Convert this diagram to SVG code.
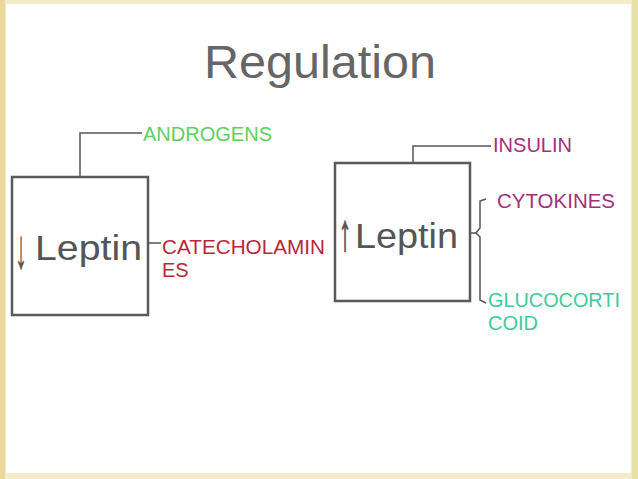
<svg xmlns="http://www.w3.org/2000/svg" width="638" height="479" viewBox="0 0 638 479">
<style>
.box{fill:none;stroke:#5a5a5a;stroke-width:2.5}
.con{fill:none;stroke:#555;stroke-width:1.5}
.lbl{font-family:"Liberation Sans",Arial,sans-serif;font-size:20px}
.lep{font-family:"Liberation Sans",Arial,sans-serif;font-size:35px;fill:#555}
.arr{font-family:"DejaVu Sans","Liberation Sans",sans-serif;fill:#555;stroke:#555}
</style>
<rect x="0" y="0" width="638" height="479" fill="#f4ebc9"/>
<rect x="0" y="0" width="5" height="479" fill="#ecd79a"/>
<rect x="632" y="0" width="6" height="479" fill="#e6dfa6"/>
<rect x="6" y="4" width="625" height="469" fill="#ffffff"/>
<text x="320" y="78" text-anchor="middle" font-family="Liberation Sans, Arial, sans-serif" font-size="46" fill="#666" textLength="232" lengthAdjust="spacingAndGlyphs">Regulation</text>
<g id="connectors">
<path class="con" d="M80,177 L80,133 L142,133"/>
<path class="con" d="M148,243 L161,243"/>
<path class="con" d="M413,162 L413,146 L491,146"/>
<path class="con" d="M470,233 L476,233"/>
<path class="con" d="M486,199 L480,201 L480,228 L476,233 L480,237 L480,300 L486,303"/>
</g>
<g id="leptin-low">
<rect class="box" x="12" y="177" width="136" height="138"/>
<text class="lep"><tspan x="15" y="268" font-size="56" fill="#555" stroke="#555" stroke-width="0.4" textLength="12" lengthAdjust="spacingAndGlyphs">↓</tspan><tspan x="35" y="260" textLength="107" lengthAdjust="spacingAndGlyphs">Leptin</tspan></text>
</g>
<g id="leptin-high">
<rect class="box" x="335" y="163" width="135" height="138"/>
<text class="lep"><tspan x="339" y="250" font-size="52" font-weight="bold" stroke="#555" stroke-width="1.2" textLength="12" lengthAdjust="spacingAndGlyphs">↑</tspan><tspan x="355" y="248" textLength="103" lengthAdjust="spacingAndGlyphs">Leptin</tspan></text>
</g>
<g id="androgens"><text class="lbl" x="143" y="141" fill="#5fcf5f" textLength="129" lengthAdjust="spacingAndGlyphs">ANDROGENS</text></g>
<g id="catecholamines"><text class="lbl" fill="#b8283c"><tspan x="162" y="254" textLength="163" lengthAdjust="spacingAndGlyphs">CATECHOLAMIN</tspan><tspan x="162" y="277">ES</tspan></text></g>
<g id="insulin"><text class="lbl" x="493" y="152" fill="#a3307c" textLength="79" lengthAdjust="spacingAndGlyphs">INSULIN</text></g>
<g id="cytokines"><text class="lbl" x="497" y="208" fill="#a3307c" textLength="118" lengthAdjust="spacingAndGlyphs">CYTOKINES</text></g>
<g id="glucocorticoid"><text class="lbl" fill="#3fcaa0"><tspan x="488" y="307" textLength="132" lengthAdjust="spacingAndGlyphs">GLUCOCORTI</tspan><tspan x="488" y="330">COID</tspan></text></g>
</svg>
